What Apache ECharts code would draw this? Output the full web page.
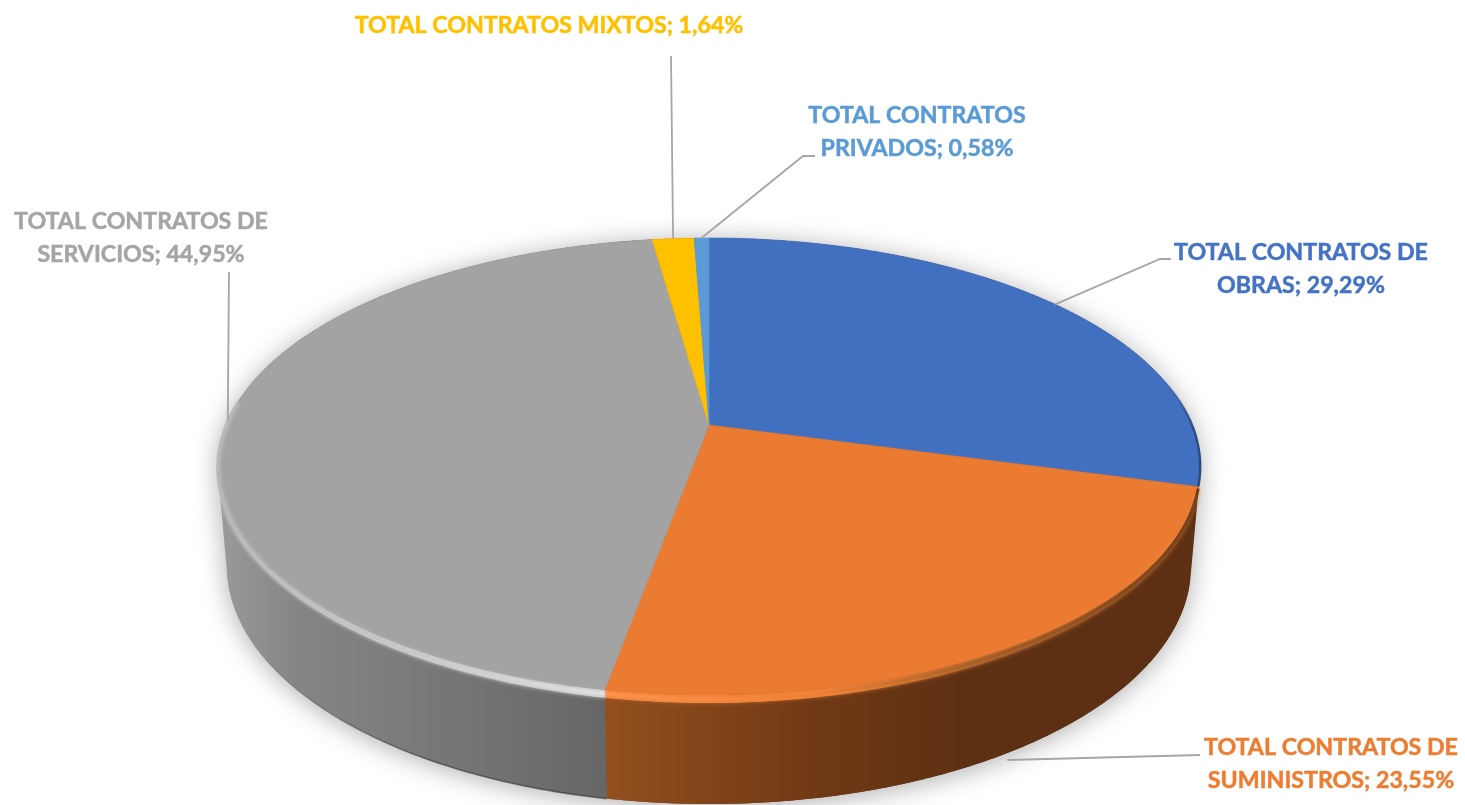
<!DOCTYPE html>
<html>
<head>
<meta charset="utf-8">
<title>Contratos</title>
<script src="https://cdn.jsdelivr.net/npm/echarts@6/dist/echarts.min.js"></script>
<style>
html, body { margin: 0; padding: 0; background: #fff; }
#chart { width: 1465px; height: 805px; }
</style>
</head>
<body>
<div id="chart"></div>
<script>
// datos
var categories = ['TOTAL CONTRATOS DE\nOBRAS', 'TOTAL CONTRATOS DE\nSUMINISTROS', 'TOTAL CONTRATOS DE\nSERVICIOS', 'TOTAL CONTRATOS MIXTOS', 'TOTAL CONTRATOS\nPRIVADOS'];
var shares = [29.29, 23.55, 44.95, 1.64, 0.58];
var topColors = ['#4170c0', '#ea7b30', '#a3a3a3', '#ffc000', '#5b9bd5'];
var textColors = ['#4472c4', '#ed7d31', '#a5a5a5', '#ffc000', '#5b9bd5'];

// donde va cada etiqueta y el codo de su linea
var labelPos = [[1301, 269], [1331, 764], [141, 238], [549, 26], [917, 132]];
var leaderBends = [[[1160, 259], [1171, 259]], [[1200, 755]], [[229, 272]], [[671, 56]], [[803, 156], [815, 156]]];

// perspectiva del disco: centro, semiejes y fuga
var K = 0.1816;
var apexX = 709, apexY = 425, topA = 483, topB = 221;
var baseY = 523, baseA = 474, baseB = 230;

var total = shares.reduce(function (a, b) { return a + b; }, 0);
function startAngle(i) {
    var s = 0;
    for (var j = 0; j < i; j++) s += shares[j];
    return s / total * 360;
}
function endAngle(i) { return startAngle(i + 1); }

function topPoint(deg) {
    var r = deg * Math.PI / 180, u = Math.sin(r), v = -Math.cos(r), d = 1 - K * v;
    return [apexX + topA * u / d, apexY + topB * v / d];
}
function basePoint(deg) {
    var r = deg * Math.PI / 180, u = Math.sin(r), v = -Math.cos(r), d = 1 - K * v;
    return [apexX + baseA * u / d, baseY + baseB * v / d];
}
// borde biselado: baja un poco el canto en la parte frontal
function bevelPoint(deg) {
    var r = deg * Math.PI / 180, v = -Math.cos(r), p = topPoint(deg);
    return [p[0], p[1] + 8 * Math.max(0, (v + 0.25) / 1.25)];
}
function bevelMid(deg) {
    var a = topPoint(deg), b = bevelPoint(deg);
    return [a[0], (a[1] + b[1]) / 2];
}
function arc(fn, a, b) {
    var pts = [], n = Math.max(2, Math.ceil(Math.abs(b - a) * 2));
    for (var i = 0; i <= n; i++) pts.push(fn(a + (b - a) * i / n));
    return pts;
}
function xGrad(x0, x1, stops) {
    var list = stops.map(function (s) { return { offset: s[0], color: s[1] }; });
    return new echarts.graphic.LinearGradient(x0, 0, x1, 0, list, true);
}
// contorno del cilindro entero, para que el costado baje recto
function hull(points) {
    var p = points.slice().sort(function (a, b) { return a[0] - b[0] || a[1] - b[1]; });
    function cross(o, a, b) { return (a[0] - o[0]) * (b[1] - o[1]) - (a[1] - o[1]) * (b[0] - o[0]); }
    var lo = [], up = [], i;
    for (i = 0; i < p.length; i++) {
        while (lo.length > 1 && cross(lo[lo.length - 2], lo[lo.length - 1], p[i]) <= 0) lo.pop();
        lo.push(p[i]);
    }
    for (i = p.length - 1; i >= 0; i--) {
        while (up.length > 1 && cross(up[up.length - 2], up[up.length - 1], p[i]) <= 0) up.pop();
        up.push(p[i]);
    }
    return lo.slice(0, -1).concat(up.slice(0, -1));
}
var bodyOutline = hull(arc(topPoint, 0, 360).concat(arc(basePoint, 0, 360)));

var grayWall = [[0, '#999999'], [0.2, '#858585'], [0.75, '#707070'], [1, '#666666']];
var orangeWall = [[0, '#934f1e'], [0.55, '#723a15'], [1, '#5e3013']];

function renderBody(params, api) {
    if (params.dataIndex !== 0) return;
    return {
        type: 'polygon',
        shape: { points: bodyOutline },
        style: {
            fill: xGrad(219, 1201, [[0, '#999999'], [0.39, '#666666'], [0.392, '#934f1e'], [0.75, '#5e3013'], [1, '#5e3013']]),
            shadowBlur: 26, shadowColor: 'rgba(0,0,0,0.32)', shadowOffsetY: 3
        }
    };
}
function renderWall(params, api) {
    var i = params.dataIndex, a = startAngle(i), b = endAngle(i);
    if (i === 1) {
        return {
            type: 'group',
            children: [{
                type: 'polygon',
                shape: { points: arc(topPoint, a, b).concat(arc(basePoint, b, a)) },
                style: { fill: xGrad(607, 960, orangeWall) }
            }, {
                type: 'polygon',
                shape: { points: arc(topPoint, a, b).concat(arc(bevelPoint, b, a)) },
                style: {
                    fill: xGrad(607, 1198, [[0, '#f98d40'], [0.38, '#ef8135'], [0.62, '#a8602a'], [1, '#74401a']]),
                    shadowBlur: 4, shadowColor: '#a8602a'
                }
            }]
        };
    }
    if (i === 2) {
        return {
            type: 'group',
            children: [{
                type: 'polygon',
                shape: { points: arc(topPoint, a, b).concat(arc(basePoint, b, a)) },
                style: { fill: xGrad(222, 607, grayWall) }
            }, {
                type: 'polyline',
                shape: { points: arc(basePoint, a, 250) },
                style: {
                    fill: 'none', lineWidth: 1.6,
                    stroke: xGrad(240, 420, [[0, 'rgba(50,50,50,0)'], [1, 'rgba(50,50,50,0.55)']])
                }
            }, {
                type: 'polygon',
                shape: { points: arc(topPoint, a, 276).concat(arc(bevelPoint, 276, a)) },
                style: {
                    fill: xGrad(222, 607, [[0, '#b2b2b2'], [0.5, '#c2c2c2'], [1, '#d2d2d2']]),
                    shadowBlur: 4, shadowColor: '#b4b4b4'
                }
            }]
        };
    }
    return;
}
function renderTop(params, api) {
    var i = params.dataIndex;
    var pts = [[apexX, apexY]].concat(arc(topPoint, startAngle(i), endAngle(i)));
    var kids = [{
        type: 'polygon',
        shape: { points: pts },
        style: { fill: topColors[i], stroke: topColors[i], lineWidth: 0.6 }
    }];
    // brillos suaves del canto
    if (i === 0) {
        kids.push({
            type: 'polyline',
            shape: { points: arc(topPoint, 75, endAngle(0)) },
            style: {
                fill: 'none', lineWidth: 2.4,
                stroke: xGrad(1165, 1196, [[0, 'rgba(43,74,128,0)'], [1, '#2b4a80']])
            }
        });
    }
    if (i === 1) {
        kids.push({
            type: 'polyline',
            shape: { points: arc(bevelMid, startAngle(1), endAngle(1)) },
            style: {
                fill: 'none', lineWidth: 3, shadowBlur: 4, shadowColor: 'rgba(240,130,60,0.5)',
                stroke: xGrad(607, 1198, [[0, '#fb9350'], [0.35, '#ef8135'], [0.62, '#a8602a'], [1, '#74401a']])
            }
        });
    }
    if (i === 2) {
        kids.push({
            type: 'polyline',
            shape: { points: arc(bevelMid, startAngle(2), 276) },
            style: {
                fill: 'none', lineWidth: 3, shadowBlur: 4, shadowColor: 'rgba(225,225,225,0.7)',
                stroke: xGrad(222, 607, [[0, '#b8b8b8'], [0.6, '#cccccc'], [1, '#e2e2e2']])
            }
        });
    }
    return { type: 'group', children: kids };
}
function renderLabel(params, api) {
    var i = params.dataIndex;
    var mid = (startAngle(i) + endAngle(i)) / 2;
    // la linea de suministros sale del canto inferior
    var from = i === 1 ? basePoint(mid) : topPoint(mid);
    if (i === 1) from = [from[0], from[1] + 7];
    var txt = categories[i] + '; ' + api.value(0).toFixed(2).replace('.', ',') + '%';
    return {
        type: 'group',
        children: [{
            type: 'polyline',
            shape: { points: [from].concat(leaderBends[i]) },
            style: { fill: 'none', stroke: '#a6a6a6', lineWidth: 1.8 }
        }, {
            type: 'text',
            x: labelPos[i][0],
            y: labelPos[i][1],
            style: {
                text: txt,
                fill: textColors[i],
                stroke: textColors[i],
                lineWidth: 0.5,
                font: '700 23.2px Lato, Carlito, sans-serif',
                lineHeight: 33,
                align: 'center',
                verticalAlign: 'middle'
            }
        }]
    };
}

var chart = echarts.init(document.getElementById('chart'));
function layer(fn, z) {
    return {
        type: 'custom',
        coordinateSystem: 'none',
        renderItem: fn,
        data: shares.map(function (v) { return [v]; }),
        z: z,
        silent: true,
        animation: false,
        clip: false
    };
}
chart.setOption({
    animation: false,
    backgroundColor: '#fff',
    series: [layer(renderBody, 1), layer(renderWall, 2), layer(renderTop, 3), layer(renderLabel, 4)]
});
</script>
</body>
</html>
